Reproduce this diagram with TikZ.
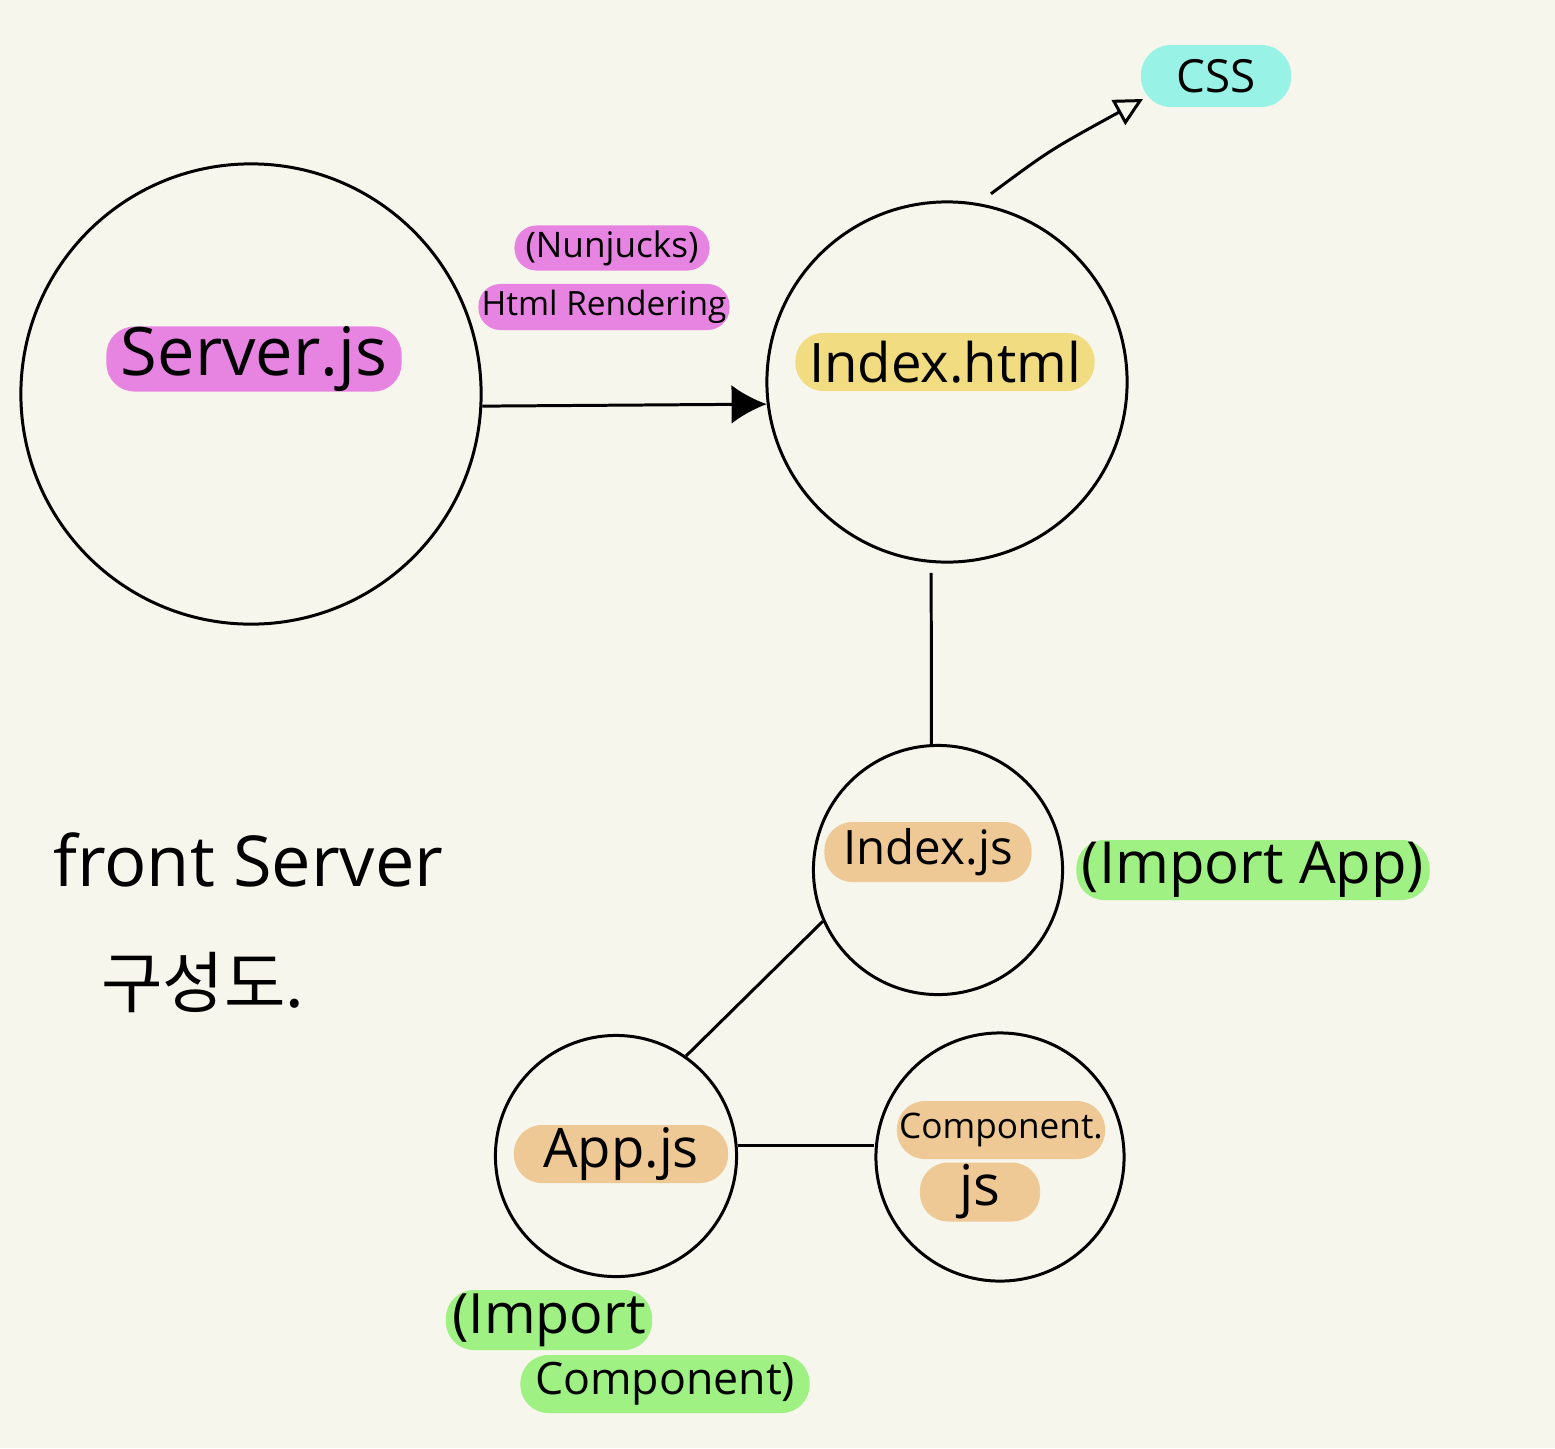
\documentclass[tikz,border=0pt]{standalone}
\usepackage{fontspec}
\setmainfont{Open Sans}
\newfontfamily\krfont{Noto Sans CJK KR}
\usetikzlibrary{arrows.meta,calc}
\definecolor{paper}{RGB}{246,246,236}
\definecolor{pinkhl}{RGB}{231,132,225}
\definecolor{yellowhl}{RGB}{241,220,130}
\definecolor{cyanhl}{RGB}{152,242,230}
\definecolor{orangehl}{RGB}{238,201,150}
\definecolor{greenhl}{RGB}{158,241,130}
\newcommand{\pen}[1]{\fontsize{#1}{#1}\selectfont}
\tikzset{
  bubble/.style={circle,draw,line width=0.85pt,inner sep=0pt,minimum size=#1},
  pill/.style={rectangle,fill=#1,rounded corners=0.28cm,inner sep=0pt},
}

\begin{document}
\begin{tikzpicture}[x=0.01cm,y=-0.01cm,line width=0.85pt]
        \fill[paper] (0,0) rectangle (1555,1448);
        % circles
        \node[bubble=4.6cm] (server) at (251,394) {};
        \node[bubble=3.6cm] (html) at (947,382) {};
        \node[bubble=2.49cm] (ijs) at (938,870) {};
        \node[bubble=2.41cm] (app) at (616,1156) {};
        \node[bubble=2.48cm] (comp) at (1000,1157) {};
        % highlighted labels
        \node[pill=pinkhl,minimum width=2.95cm,minimum height=0.58cm,font=\pen{19}] (serverlbl) at (254,359) {Server.js};
        \node[pill=pinkhl,rounded corners=0.22cm,minimum width=1.95cm,minimum height=0.45cm,font=\pen{10}] (nunjucks) at (612,248) {(Nunjucks)};
        \node[pill=pinkhl,rounded corners=0.22cm,minimum width=2.51cm,minimum height=0.46cm,font=\pen{9.5}] (render) at (604,307) {Html Rendering};
        \node[pill=yellowhl,minimum width=2.99cm,minimum height=0.58cm,font=\pen{15.5}] (htmllbl) at (945,362) {Index.html};
        \node[pill=cyanhl,rounded corners=0.3cm,minimum width=1.5cm,minimum height=0.62cm,font=\pen{13}] (css) at (1216,76) {CSS};
        \node[pill=orangehl,minimum width=2.07cm,minimum height=0.6cm,font=\pen{13.5}] (ijslbl) at (928,852) {Index.js};
        \node[pill=greenhl,minimum width=3.53cm,minimum height=0.6cm,font=\pen{16.5}] (importapp) at (1253,870) {(Import App)};
        \node[pill=orangehl,minimum width=2.14cm,minimum height=0.58cm,font=\pen{15.5}] (applbl) at (621,1154) {App.js};
        \node[pill=orangehl,minimum width=2.08cm,minimum height=0.58cm,font=\pen{10}] (complbl) at (1001,1130) {Component.};
        \node[pill=orangehl,minimum width=1.2cm,minimum height=0.59cm,font=\pen{16}] (compjs) at (980,1192) {js};
        \node[pill=greenhl,minimum width=2.06cm,minimum height=0.6cm,font=\pen{15.8}] (importa) at (549,1320) {(Import};
        \node[pill=greenhl,minimum width=2.89cm,minimum height=0.58cm,font=\pen{12.7}] (importb) at (665,1384) {Component)};
        % title
        \node[font=\pen{20},anchor=west] (title) at (40,860) {front Server};
        \node[font=\krfont\pen{19},anchor=west] (titlekr) at (88,982) {구성도.};
        % connectors
        \draw[-{Latex[length=10pt,width=11pt]}] (server.-3) -- (html.187);
        \draw ([yshift=-0.1cm]html.265) -- (ijs.93);
        \draw (ijs.204) -- (app.55);
        \draw (app.5) -- (app.5 -| comp.west);
        \coordinate (csstip) at (1143,99);
        \draw[-{Triangle[open,length=8pt,width=8pt]}] ($(html.76)+(0,-12)$) .. controls (1050,150) .. (csstip);
\end{tikzpicture}
\end{document}
